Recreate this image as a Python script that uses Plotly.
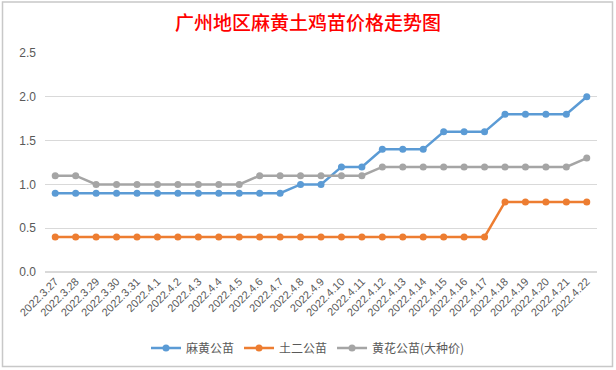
import plotly.graph_objects as go

dates = ["2022.3.27", "2022.3.28", "2022.3.29", "2022.3.30", "2022.3.31",
         "2022.4.1", "2022.4.2", "2022.4.3", "2022.4.4", "2022.4.5", "2022.4.6",
         "2022.4.7", "2022.4.8", "2022.4.9", "2022.4.10", "2022.4.11", "2022.4.12",
         "2022.4.13", "2022.4.14", "2022.4.15", "2022.4.16", "2022.4.17", "2022.4.18",
         "2022.4.19", "2022.4.20", "2022.4.21", "2022.4.22"]

mahuang = [0.9, 0.9, 0.9, 0.9, 0.9, 0.9, 0.9, 0.9, 0.9, 0.9, 0.9, 0.9,
           1.0, 1.0, 1.2, 1.2, 1.4, 1.4, 1.4, 1.6, 1.6, 1.6, 1.8, 1.8, 1.8, 1.8, 2.0]
tuer = [0.4] * 22 + [0.8, 0.8, 0.8, 0.8, 0.8]
huanghua = [1.1, 1.1, 1.0, 1.0, 1.0, 1.0, 1.0, 1.0, 1.0, 1.0, 1.1, 1.1,
            1.1, 1.1, 1.1, 1.1, 1.2, 1.2, 1.2, 1.2, 1.2, 1.2, 1.2, 1.2, 1.2, 1.2, 1.3]

series = [("麻黄公苗", mahuang, "#5B9BD5"),
          ("土二公苗", tuer, "#ED7D31"),
          ("黄花公苗(大种价)", huanghua, "#A5A5A5")]

fig = go.Figure()
for name, vals, col in series:
    fig.add_trace(go.Scatter(
        x=dates, y=vals, name=name, mode="lines+markers",
        line=dict(color=col, width=2.5),
        marker=dict(color=col, size=7),
    ))

fig.update_layout(
    width=616, height=370,
    margin=dict(l=45, r=19, t=53, b=98),
    paper_bgcolor="white", plot_bgcolor="white",
    font=dict(family="Liberation Sans, Arial, Noto Sans CJK SC", color="#595959"),
    title=dict(text="广州地区麻黄土鸡苗价格走势图", x=0.5, xref="container",
               y=1 - 23 / 370, yref="container", yanchor="middle", xanchor="center",
               font=dict(family="Noto Sans CJK SC", size=19, color="#FF0000", weight=500)),
    xaxis=dict(type="category", range=[-0.5, 26.5], showgrid=False,
               showline=False, ticks="", tickangle=-45,
               tickfont=dict(size=11, color="#595959")),
    yaxis=dict(range=[0, 2.5], dtick=0.5, tickformat=".1f", showgrid=True,
               gridcolor="#D9D9D9", gridwidth=1, zeroline=True, zerolinecolor="#D9D9D9",
               showline=False, ticks="", ticklabelstandoff=8,
               tickfont=dict(size=12, color="#595959")),
    legend=dict(orientation="h", x=0.5, xref="container", xanchor="center",
                y=1 - 348 / 370, yref="container", yanchor="middle",
                font=dict(family="Noto Sans CJK SC", size=12, color="#595959"),
                itemwidth=30, tracegroupgap=0),
    showlegend=True,
    shapes=[dict(type="rect", xref="paper", yref="paper",
                 x0=(2.5 - 45) / 552, x1=(612.5 - 45) / 552,
                 y0=(272 - 366.5) / 219, y1=(272 - 2) / 219,
                 line=dict(color="#C8C8C8", width=1.5), layer="below")],
)

fig.write_html("out.html", config={"displayModeBar": False},
               post_script="document.body.style.margin='0';document.body.style.padding='0';")
